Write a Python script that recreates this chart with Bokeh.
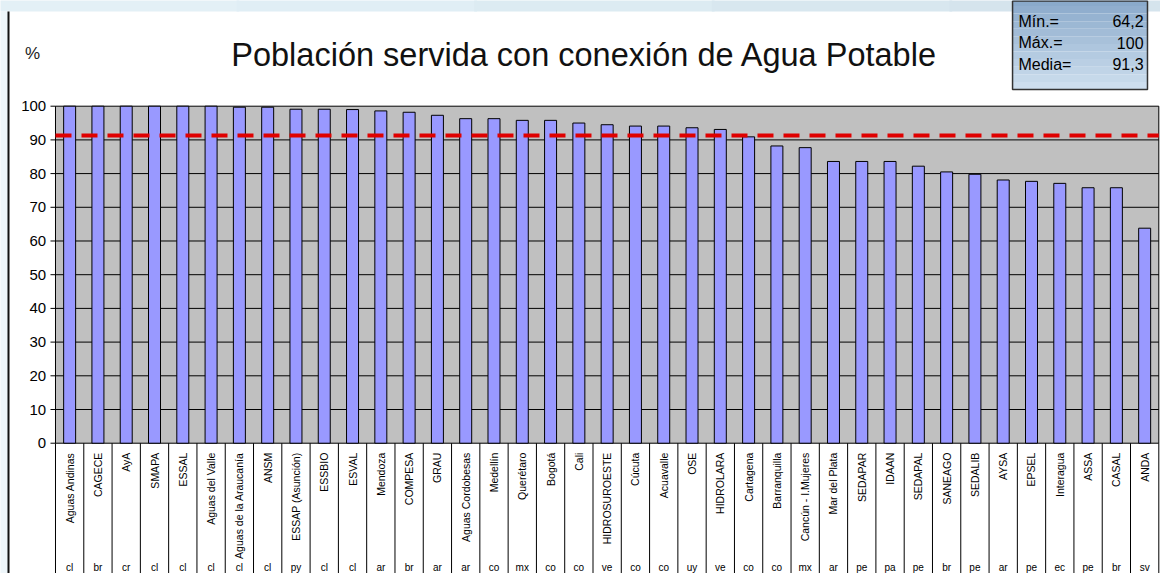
from bokeh.plotting import figure
from bokeh.models import Range1d
from bokeh.embed import file_html
from bokeh.resources import INLINE
from bokeh.core.properties import value

# ---- data -------------------------------------------------------------
names = ["Aguas Andinas", "CAGECE", "AyA", "SMAPA", "ESSAL", "Aguas del Valle",
         "Aguas de la Araucanía", "ANSM", "ESSAP (Asunción)", "ESSBIO", "ESVAL",
         "Mendoza", "COMPESA", "GRAU", "Aguas Cordobesas", "Medellín", "Querétaro",
         "Bogotá", "Cali", "HIDROSUROESTE", "Cúcuta", "Acuavalle", "OSE", "HIDROLARA",
         "Cartagena", "Barranquilla", "Cancún - I.Mujeres", "Mar del Plata", "SEDAPAR",
         "IDAAN", "SEDAPAL", "SANEAGO", "SEDALIB", "AYSA", "EPSEL", "Interagua",
         "ASSA", "CASAL", "ANDA"]
countries = ["cl", "br", "cr", "cl", "cl", "cl", "cl", "cl", "py", "cl", "cl",
             "ar", "br", "ar", "ar", "co", "mx", "co", "co", "ve", "co", "co", "uy",
             "ve", "co", "co", "mx", "ar", "pe", "pa", "pe", "br", "pe", "ar", "pe",
             "ec", "pe", "br", "sv"]
values = [100, 100, 100, 100, 100, 100, 99.7, 99.7, 99.1, 99.1, 99.0,
          98.6, 98.2, 97.3, 96.3, 96.3, 95.8, 95.8, 95.0, 94.5, 94.1, 94.1, 93.6,
          93.1, 90.9, 88.2, 87.7, 83.6, 83.6, 83.6, 82.2, 80.5, 79.8, 78.1, 77.7,
          77.1, 75.8, 75.8, 63.8]
y_ticks = [0, 10, 20, 30, 40, 50, 60, 70, 80, 90, 100]
y_tick_labels = [str(t) for t in y_ticks]
stat_labels = ["Mín.=", "Máx.=", "Media="]
stat_values = ["64,2", "100", "91,3"]
mean_value = 91.3
title_text = "Población servida con conexión de Agua Potable"
unit_text = "%"

# ---- layout ------------------------------------------------------------
W, H = 1160, 573
n = len(names)
xs = [i + 0.5 for i in range(n)]
FONT = value("Liberation Sans")

p = figure(width=W, height=H, output_backend="svg", toolbar_location=None,
           x_range=Range1d(-1.944, 39.06), y_range=Range1d(-38.66, 131.36),
           x_axis_location=None, y_axis_location=None,
           min_border=0, min_border_left=0, min_border_right=0,
           min_border_top=0, min_border_bottom=0, outline_line_color=None,
           background_fill_color="white", border_fill_color="white")
p.xgrid.visible = False
p.ygrid.visible = False

# slide decoration: top band and left edge
band_cols = ["#e3f0f6", "#e0eef5", "#dcebf2", "#d8e7ef", "#d5e4ed"]
for k, c in enumerate(band_cols):
    p.quad(left=[-2 + k * 8.4], right=[-2 + (k + 1) * 8.4 + 0.1], bottom=[128.1],
           top=[133], fill_color=c, line_color=None)
p.quad(left=[-2.0], right=[-1.661], bottom=[-40], top=[128.1],
       fill_color="#eef6fa", line_color=None)
p.segment(x0=[-1.661], x1=[-1.661], y0=[-40], y1=[128.1], line_color="#111111",
          line_width=2)

# gray plot area
p.quad(left=[0], right=[n], bottom=[0], top=[100], fill_color="#C0C0C0",
       line_color="black", line_width=1)
# gridlines
p.segment(x0=[0] * (len(y_ticks) - 2), x1=[n] * (len(y_ticks) - 2),
          y0=y_ticks[1:-1], y1=y_ticks[1:-1], line_color="black", line_width=1)

# y axis: tick marks and labels
p.segment(x0=[-0.177] * len(y_ticks), x1=[0] * len(y_ticks), y0=y_ticks,
          y1=y_ticks, line_color="black", line_width=1)
p.text(x=[-0.33] * len(y_ticks), y=y_ticks, text=y_tick_labels, text_align="right",
       text_baseline="middle", text_font=FONT, text_font_size="15px",
       text_color="black")
p.text(x=[-0.813], y=[115.6], text=[unit_text], text_align="center",
       text_baseline="alphabetic", text_font=FONT, text_font_size="17px",
       text_color="#222222")

# bars
p.vbar(x=xs, top=values, bottom=0, width=0.424, fill_color="#9999FF",
       line_color="black", line_width=1)

# mean line
p.segment(x0=[0], x1=[n], y0=[mean_value], y1=[mean_value], line_color="#E00000",
          line_width=4, line_dash="16 10")

# separators in label area
p.segment(x0=list(range(n + 1)), x1=list(range(n + 1)), y0=[0] * (n + 1),
          y1=[-40] * (n + 1), line_color="black", line_width=1)

# category names (rotated) and country codes
p.text(x=xs, y=[-2.8] * n, text=names, angle=1.5707963, text_align="right",
       text_baseline="middle", text_font=FONT, text_font_size="10.5px",
       text_color="black")
p.text(x=xs, y=[-36.9] * n, text=countries, text_align="center",
       text_baseline="middle", text_font=FONT, text_font_size="10px",
       text_color="black")

# title
p.text(x=[18.70], y=[115.05], text=[title_text], text_align="center",
       text_baseline="alphabetic", text_font=FONT, text_font_size="32.5px",
       text_color="#111111")

# stats box (gradient)
steps = 12
top_c = (0x8a, 0xaa, 0xcb)
bot_c = (0xcd, 0xde, 0xee)
y_top, y_bot = 132.0, 104.96
for k in range(steps):
    f = k / (steps - 1)
    c = tuple(int(top_c[j] + (bot_c[j] - top_c[j]) * f) for j in range(3))
    yt = y_top - (y_top - y_bot) * k / steps
    yb = y_top - (y_top - y_bot) * (k + 1) / steps
    p.quad(left=[33.83], right=[38.60], bottom=[yb], top=[yt],
           fill_color="#%02x%02x%02x" % c, line_color=None)
p.quad(left=[33.83], right=[38.60], bottom=[y_bot], top=[131.2], fill_color=None,
       line_color="#333333", line_width=1.5)
stat_y = [125.13, 118.75, 112.37]
p.text(x=[34.04] * 3, y=stat_y, text=stat_labels, text_align="left",
       text_baseline="middle", text_font=FONT, text_font_size="16px",
       text_color="black")
p.text(x=[38.46] * 3, y=stat_y, text=stat_values, text_align="right",
       text_baseline="middle", text_font=FONT, text_font_size="16px",
       text_color="black")

open("out.html", "w").write(file_html(p, INLINE))
